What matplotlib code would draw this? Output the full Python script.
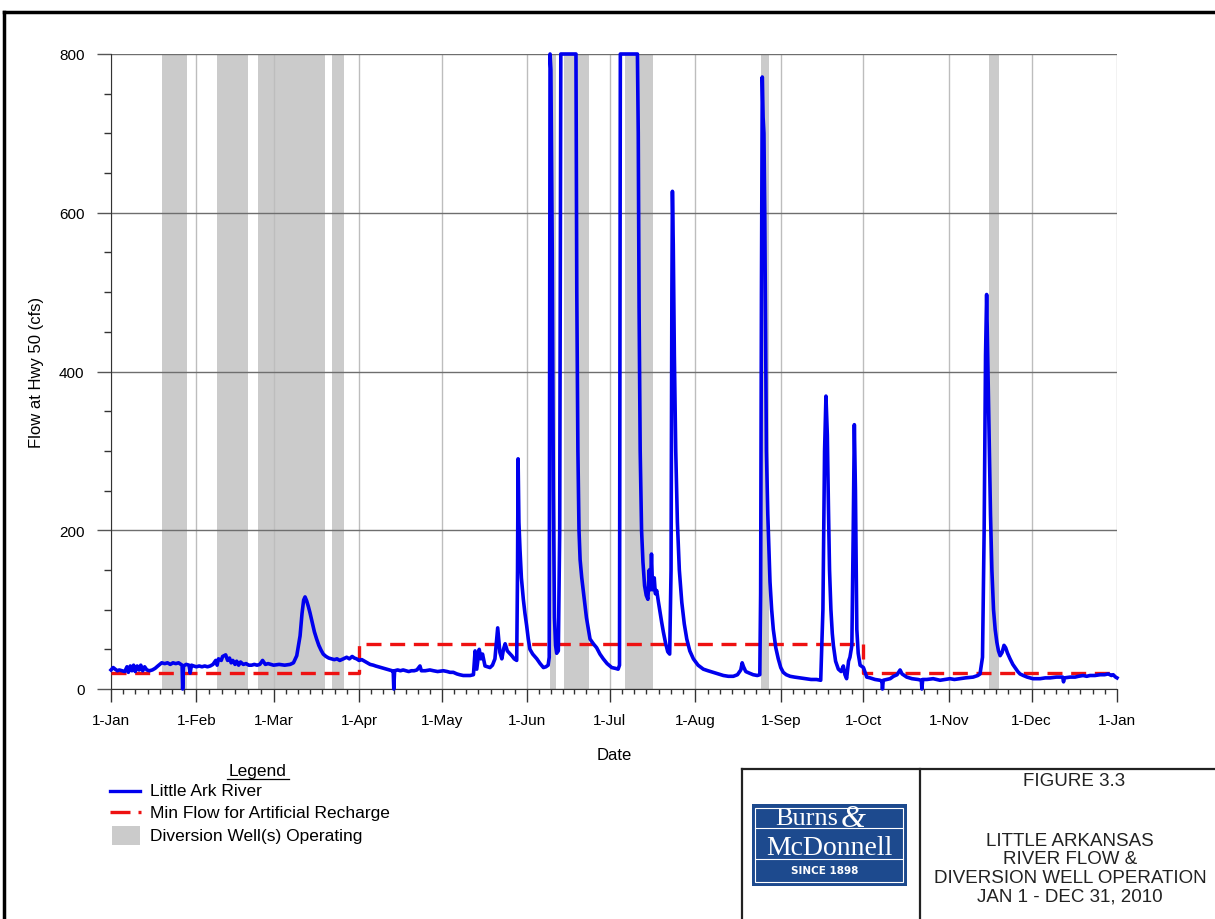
import numpy as np
import matplotlib
matplotlib.use('Agg')
import matplotlib.pyplot as plt
import matplotlib.dates as mdates
from matplotlib.ticker import FixedLocator, MultipleLocator, FuncFormatter
from matplotlib.patches import Rectangle
from matplotlib.lines import Line2D

plt.rcParams['font.family'] = ['Liberation Sans', 'DejaVu Sans']

# ---------------- data (days since 1-Jan-2010, flow in cfs) ----------------
q1_day = [0, 0.8, 1.5, 2.3, 3, 4, 5, 5.8, 6.3, 7, 7.6, 8.2, 8.8, 9.5, 10.2, 10.8, 11.5, 12.2, 13, 14, 15, 16, 17,
          18.4, 19.5, 20.5, 21.5, 22.5, 23.5, 24.5, 25.4, 25.8, 26.0, 26.3, 27.3, 28.3, 28.7, 29.2, 30,
          31, 32, 33, 34, 35, 36, 37, 38, 38.5, 39, 40, 40.5, 41.6, 42.3, 43, 43.6, 44.2, 45, 45.6, 46.3, 47, 48, 49,
          50, 51, 52, 53, 54, 55, 56, 57, 58,
          59, 61, 63, 65, 66.2, 67.4, 68.6, 69.3, 69.9, 70.4, 71.0, 71.6, 72.2, 73.0, 73.8, 74.6, 75.4, 76.2, 77.0,
          78, 79, 80, 81, 82, 83, 84.3, 85.5, 86.5, 87.5, 88.3, 89.1]
q1_cfs = [24, 27, 25, 23, 24, 23, 22, 28, 21, 29, 23, 30, 22, 29, 24, 30, 23, 28, 24, 23, 24, 26, 29,
          33, 32, 33, 31, 33, 32, 33, 31, 30, 0, 29, 31, 30, 20, 30, 29,
          28, 29, 28, 29, 28, 29, 31, 36, 30, 38, 36, 41, 43, 36, 39, 33, 36, 31, 35, 30, 34, 31, 32,
          30, 30, 31, 30, 31, 36, 31, 32, 31,
          30, 31, 30, 31, 33, 42, 67, 95, 112, 116, 111, 104, 96, 84, 72, 63, 55, 49, 44,
          41, 39, 38, 37, 38, 36, 38, 40, 38, 41, 39, 38]

q2_day = [90, 91, 92, 93, 94, 95.2, 96, 97, 98, 99, 100, 101, 102, 102.4, 102.6, 102.9, 104, 105, 106, 107, 108,
          109, 110, 111, 112.1, 112.6, 114, 115.7, 117, 118.5, 120.6, 122, 123, 124.2, 125.5, 126.5, 127.8, 129,
          130.3, 131.5, 132.1, 132.7, 133.6, 134.2, 134.8, 135.7, 136.6, 137.5, 138.4, 139.3, 140.3, 141.1, 141.8,
          142.4, 143.0, 143.8, 144.6, 145.4, 146.3, 147.2, 147.5, 147.7, 148.0, 148.4, 148.9, 149.6, 150.2, 150.8,
          151.4, 152.0, 153.0, 154.5, 155.7, 156.9, 157.8, 158.6, 159.0, 159.3, 159.6, 159.9, 160.1, 160.5, 160.9,
          161.3, 161.7, 162.3, 162.8, 163.2, 168.7, 169.0, 169.4, 169.8, 170.2, 170.8, 171.4, 172.5, 173.8, 175.0,
          176.2, 177.4, 178.6, 180.0]
q2_cfs = [36, 37, 35, 33, 31, 30, 29, 28, 27, 26, 25, 24, 23, 22, 0, 23, 24, 23, 24, 23, 22,
          23, 23, 24, 29, 23, 23, 24, 23, 22, 23, 22, 21, 21, 19, 18, 17, 17,
          17, 18, 48, 25, 50, 38, 44, 29, 28, 27, 30, 38, 77, 46, 38,
          50, 57, 48, 45, 42, 38, 36, 150, 290, 210, 175, 140, 113, 95, 80,
          63, 50, 44, 38, 32, 27, 28, 30, 40, 800, 780, 650, 550, 250, 90,
          55, 45, 48, 200, 800, 800, 500, 300, 200, 163, 140, 122, 90, 63, 57,
          52, 44, 38, 32]

q3_day = [181.7, 183, 184.0, 184.5, 184.8, 191.0, 191.3, 191.6, 192.0, 192.5, 193.0, 193.6, 194.2, 194.8, 195.3,
          195.7, 196.1, 196.5, 197.1, 197.5, 198.0, 198.6, 199.2, 199.8, 200.4, 201.2, 202.0, 202.7, 203.2, 203.5,
          203.7, 204.0, 204.4, 204.9, 205.5, 206.2, 207.1, 208.0, 208.9, 210.0, 211.3, 213.0, 214.9, 216.6, 218.5,
          220.3, 222.2, 224.0, 225.8, 227.3, 228.5, 229.0, 229.5, 230.3, 231.6, 233.0, 234.5, 235.4, 235.7, 236.0,
          236.3, 236.6, 236.9, 237.2, 237.5, 237.8, 238.3, 239.1, 239.7, 240.3, 241.2, 242.1, 243.0, 243.9, 245.0,
          246.4, 248.0, 250.0, 252.0, 254.0, 256.0, 257.5, 258.3, 258.9, 259.4, 259.9, 260.3, 260.7, 261.2, 261.7,
          262.1, 262.9, 263.9, 264.9, 265.7, 266.3, 266.9, 267.6, 268.1, 268.8, 269.3, 269.7, 270.1, 270.6, 271.1,
          271.8]
q3_cfs = [27, 26, 25, 30, 800, 800, 700, 480, 300, 200, 160, 130, 118, 113, 150,
          125, 170, 125, 140, 120, 124, 110, 97, 84, 72, 58, 47, 44, 150, 500,
          627, 560, 420, 300, 210, 150, 109, 82, 63, 48, 38, 30, 25, 23, 21,
          19, 17, 16, 16, 18, 24, 33, 28, 22, 20, 18, 17, 18, 120, 500,
          771, 720, 700, 600, 450, 300, 220, 135, 100, 75, 52, 38, 27, 21, 18,
          16, 15, 14, 13, 12, 12, 11, 100, 300, 369, 320, 230, 150, 100, 70,
          55, 35, 25, 22, 29, 18, 13, 35, 40, 55, 200, 333, 250, 75, 45,
          30]

q4_day = [273.0, 274.2, 275.4, 277.2, 279.0, 279.7, 279.9, 280.2, 282.7, 283.9, 285.2, 286.3, 287.0, 288.7, 290.6,
          292.8, 294.0, 294.2, 294.5, 296, 298.3, 300.8, 302.5, 304.4, 306, 308, 310, 312.8, 314.5, 315.3, 316.2,
          316.8, 317.3, 317.7, 318.1, 318.6, 319.1, 319.6, 320.2, 320.8, 321.4, 322.0, 322.6, 323.3, 324.0, 324.6,
          325.3, 326.2, 327.2, 328.0, 329.0, 329.8, 331.0, 332.4, 334.5, 336, 337.1, 339, 340.7, 343, 345.3, 345.6,
          345.9, 348, 349.8, 351, 352.7, 354, 355.2, 357, 358.9, 360.5, 361.8, 363, 363.6, 364.5, 365.0]
q4_cfs = [27, 15, 14, 12, 11, 10, 0, 11, 13, 16, 18, 24, 19, 15, 13,
          12, 11, 0, 12, 12, 13, 11, 12, 13, 12, 13, 14, 15, 17, 19, 40,
          200, 420, 497, 420, 320, 220, 150, 100, 75, 59, 48, 42, 46, 55, 52,
          45, 38, 31, 27, 22, 19, 17, 15, 13, 13, 13, 14, 14, 15, 15, 9,
          14, 15, 15, 16, 17, 16, 17, 17, 18, 18, 19, 17, 18, 15, 14]

# minimum flow for artificial recharge (step values)
minflow_start = ['2010-01-01', '2010-04-01', '2010-10-01', '2011-01-01']
minflow_cfs = [20, 57, 20, 20]

# diversion well operating periods (day of year, start / end)
well_start = [18.4, 38.5, 53.2, 80.3, 159.3, 164.5, 186.5, 235.8, 318.7]
well_end = [27.7, 49.8, 77.6, 84.7, 161.5, 173.5, 196.6, 238.9, 322.1]

legend_labels = ['Little Ark River', 'Min Flow for Artificial Recharge', 'Diversion Well(s) Operating']
title_lines = ['LITTLE ARKANSAS', 'RIVER FLOW &', 'DIVERSION WELL OPERATION', 'JAN 1 - DEC 31, 2010']

# ---------------- helpers ----------------
BASE = np.datetime64('2010-01-01T00:00')


def to_dates(days):
    return BASE + np.round(np.asarray(days, dtype=float) * 1440).astype('timedelta64[m]')


flow_day = q1_day + q2_day + q3_day + q4_day
flow_cfs = q1_cfs + q2_cfs + q3_cfs + q4_cfs

BLUE = '#0000ee'
RED = '#ee1111'
GRAY = '#cbcbcb'

W, H = 1215, 920
fig = plt.figure(figsize=(W / 100, H / 100), dpi=100)
over = fig.add_axes([0, 0, 1, 1])
over.set_xlim(0, W)
over.set_ylim(H, 0)
over.axis('off')

ax = fig.add_axes([111 / W, (H - 690) / H, 1006 / W, 635 / H])

# shaded operating periods
for s, e in zip(well_start, well_end):
    ax.axvspan(to_dates([s])[0], to_dates([e])[0], color=GRAY, lw=0, zorder=1)

# min flow
ax.plot(np.array(minflow_start, dtype='datetime64[m]'), minflow_cfs, drawstyle='steps-post',
        color=RED, lw=2.4, dashes=(4.5, 2.6), zorder=3)
# river flow
ax.plot(to_dates(flow_day), flow_cfs, color=BLUE, lw=2.6, zorder=4, clip_on=False,
        solid_joinstyle='round')

ax.set_xlim(np.datetime64('2010-01-01'), np.datetime64('2011-01-01'))
ax.set_ylim(0, 800)

ax.xaxis.set_major_locator(mdates.MonthLocator())


def month_fmt(x, pos):
    d = mdates.num2date(x)
    return f"{d.day}-{d.strftime('%b')}"


ax.xaxis.set_major_formatter(FuncFormatter(month_fmt))

# minor ticks: subdivide each month into ~4.5 day steps
minor = []
months = np.arange(np.datetime64('2010-01'), np.datetime64('2011-02'), dtype='datetime64[M]')
for m0, m1 in zip(months[:-1], months[1:]):
    a = mdates.date2num(m0.astype('datetime64[D]'))
    b = mdates.date2num(m1.astype('datetime64[D]'))
    n = int(round((b - a) / 4.5))
    for k in range(1, n):
        minor.append(a + k * (b - a) / n)
ax.xaxis.set_minor_locator(FixedLocator(minor))

ax.yaxis.set_major_locator(MultipleLocator(200))
ax.yaxis.set_minor_locator(MultipleLocator(50))

ax.yaxis.grid(True, which='major', color='#6e6e6e', lw=1)
ax.xaxis.grid(True, which='major', color='#bdbdbd', lw=1)
for sp in ['top', 'right']:
    ax.spines[sp].set_visible(False)
ax.spines['left'].set_color('#333333')
ax.spines['bottom'].set_color('#333333')

ax.tick_params(axis='x', which='major', length=9.4, width=1, color='#333333', pad=8, labelsize=11)
ax.tick_params(axis='x', which='minor', length=3.6, width=1, color='#333333')
ax.tick_params(axis='y', which='major', length=10, width=1, color='#555555', pad=9, labelsize=11)
ax.tick_params(axis='y', which='minor', length=5, width=1, color='#333333')

ax.set_xlabel('Date', fontsize=12)
ax.xaxis.set_label_coords(0.5, (690 - 748) / 635)
ax.set_ylabel('Flow at Hwy 50 (cfs)', fontsize=12)
ax.yaxis.set_label_coords((44 - 111) / 1006, 0.5)

# ---------------- outer frame ----------------
over.add_line(Line2D([3.5, W], [12.5, 12.5], color='black', lw=2.5))
over.add_line(Line2D([3.5, 3.5], [12.5, H], color='black', lw=2.5))

# ---------------- legend ----------------
over.text(257.5, 772, 'Legend', ha='center', va='center', fontsize=12.5)
over.add_line(Line2D([226.5, 288.5], [779.5, 779.5], color='black', lw=0.9))
over.add_line(Line2D([110, 140], [791.7, 791.7], color=BLUE, lw=2.4))
over.add_line(Line2D([110, 141], [813.3, 813.3], color=RED, lw=2.4, dashes=(6, 2.4)))
over.add_patch(Rectangle((111.7, 827), 28.3, 19, color=GRAY, lw=0))
for yy, lab in zip([791.7, 813.3, 836.7], legend_labels):
    over.text(150, yy, lab, ha='left', va='center', fontsize=12.5)

# ---------------- title block ----------------
over.add_line(Line2D([741.5, W], [770, 770], color='#222222', lw=1.6))
over.add_line(Line2D([741.5, 741.5], [770, H], color='#222222', lw=1.6))
over.add_line(Line2D([920, 920], [770, H], color='#222222', lw=1.6))
over.text(1074, 782, 'FIGURE 3.3', ha='center', va='center', fontsize=13.5, color='#222222')
for yy, t in zip([841.7, 860, 878.3, 896.7], title_lines):
    over.text(1070, yy, t, ha='center', va='center', fontsize=13.5, color='#222222')

# logo
LOGO = '#1d4a8e'
over.add_patch(Rectangle((751.7, 805), 155, 81.7, color=LOGO, lw=0))
over.add_patch(Rectangle((755, 809), 148.3, 74.3, fill=False, ec='white', lw=0.8))
over.add_line(Line2D([755, 903.3], [828.5, 828.5], color='white', lw=0.8))
over.add_line(Line2D([755, 903.3], [859.5, 859.5], color='white', lw=0.8))
over.text(838, 825.5, 'Burns', ha='right', va='baseline', fontsize=19, color='white',
          family='Liberation Serif')
over.text(841, 827, '&', ha='left', va='baseline', fontsize=23, color='white',
          family='Liberation Serif', style='italic')
over.text(829, 855, 'McDonnell', ha='center', va='baseline', fontsize=20, color='white',
          family='Liberation Serif')
over.text(825, 871.5, 'SINCE 1898', ha='center', va='center', fontsize=7.5, color='white',
          family='DejaVu Sans', weight='bold')

fig.savefig('out.png', dpi=100)
